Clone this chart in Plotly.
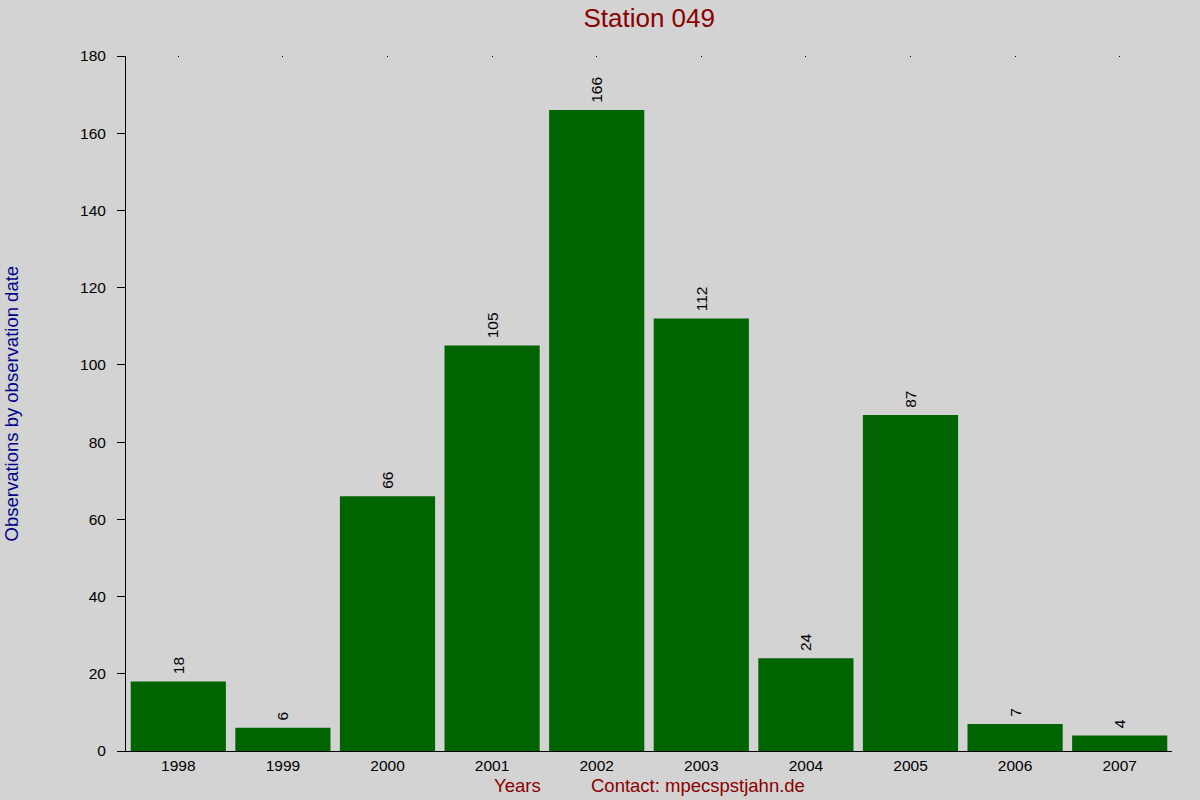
import plotly.graph_objects as go

# --- data ---
years = ["1998", "1999", "2000", "2001", "2002", "2003", "2004", "2005", "2006", "2007"]
observations = [18, 6, 66, 105, 166, 112, 24, 87, 7, 4]
y_ticks = [0, 20, 40, 60, 80, 100, 120, 140, 160, 180]

BG = "#d3d3d3"
DARK_RED = "#8b0000"
FONT = "Liberation Sans, Arial, sans-serif"

fig = go.Figure()

fig.add_trace(go.Bar(
    x=years,
    y=observations,
    marker=dict(color="#006400", line=dict(width=0)),
    # nbsp in front pushes the rotated label a bit further off the bar top
    text=["\u00a0" + str(v) for v in observations],
    textposition="outside",
    textangle=-90,
    constraintext="none",
    textfont=dict(size=15.5, color="black", family=FONT),
    cliponaxis=False,
    hoverinfo="x+y",
))

# empty trace on a top axis, only to get the tiny tick dots along the top edge
fig.add_trace(go.Scatter(x=years, y=[None] * len(years), xaxis="x2",
                         hoverinfo="skip", showlegend=False))

fig.update_layout(
    width=1200, height=800,
    paper_bgcolor=BG,
    plot_bgcolor=BG,
    font=dict(family=FONT, size=15.5, color="black"),
    margin=dict(l=126, r=28, t=56, b=49),
    bargap=0.09,
    showlegend=False,
    title=dict(text="Station 049", x=0.541, xanchor="center", y=0.9775, yanchor="middle",
               font=dict(size=26, color=DARK_RED, family=FONT)),
    xaxis=dict(
        type="category",
        range=[-0.5, len(years) - 0.5],
        showline=True, linecolor="black", linewidth=1,
        ticks="", showgrid=False, zeroline=False,
        tickfont=dict(size=15.5),
    ),
    xaxis2=dict(
        type="category", overlaying="x", side="top", matches="x",
        showline=False, showgrid=False, zeroline=False,
        ticks="inside", ticklen=1, tickwidth=1, tickcolor="black",
        showticklabels=False,
    ),
    yaxis=dict(
        range=[0, 180],
        tickvals=y_ticks,
        showline=True, linecolor="black", linewidth=1,
        ticks="outside", ticklen=8, tickcolor="black",
        ticklabelstandoff=8,
        showgrid=False, zeroline=False,
        tickfont=dict(size=15.5),
    ),
    annotations=[
        dict(text="Years", xref="paper", yref="paper", x=0.374, y=-0.05,
             xanchor="center", yanchor="middle", showarrow=False,
             font=dict(size=18.5, color=DARK_RED)),
        dict(text="Contact: mpecspstjahn.de", xref="paper", yref="paper", x=0.547, y=-0.05,
             xanchor="center", yanchor="middle", showarrow=False,
             font=dict(size=18.5, color=DARK_RED)),
        dict(text="Observations by observation date", xref="paper", yref="paper",
             x=-0.109, y=0.5, xanchor="center", yanchor="middle", textangle=-90,
             showarrow=False, font=dict(size=18.5, color="#00008b")),
    ],
)

fig.write_html("out.html", config={"displayModeBar": False},
               post_script="document.body.style.margin='0';document.body.style.overflow='hidden';")
